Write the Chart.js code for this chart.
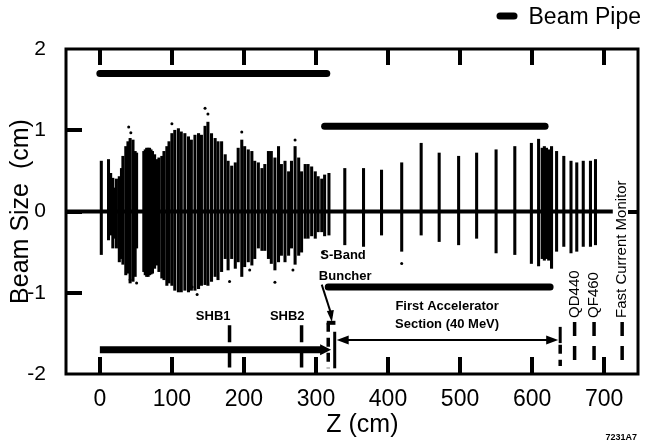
<!DOCTYPE html>
<html>
<head>
<meta charset="utf-8">
<script src="https://cdn.jsdelivr.net/npm/chart.js@4.4.1/dist/chart.umd.min.js"></script>
<style>
  html, body { margin: 0; padding: 0; background: #fff; }
  canvas { display: block; }
</style>
</head>
<body>
<canvas id="beamChart" width="646" height="442"></canvas>
<script>
// beam envelope per Z position (cm): top and bottom extent of the scatter
const zPos = [2, 12, 15, 18, 21, 23, 27, 30, 32, 36, 39, 42, 46, 49, 51, 61, 63, 65, 67, 69, 71, 73, 76, 79, 82, 86, 89, 93, 96,
  100, 104, 109, 113, 118, 123, 127, 132, 137, 141, 146, 150, 155, 160, 164, 169, 174, 178, 183, 188, 192, 197,
  201, 206, 211, 215, 220, 225, 229, 234, 238, 243, 248, 252, 257, 262, 266, 271, 276, 280, 285, 289, 294, 299,
  303, 308, 312, 318, 340, 366, 391, 419, 446, 471, 498, 523, 550, 576, 599, 609, 614, 617, 620, 623, 627,
  634, 644, 654, 662, 671, 681, 688];
const sizeTop = [0.62, 0.64, 0.47, 0.41, 0.29, 0.40, 0.43, 0.53, 0.68, 0.80, 0.86, 0.90, 0.88, 0.74, 0.72, 0.74, 0.76, 0.78, 0.78, 0.78, 0.76, 0.74, 0.70, 0.64, 0.66, 0.68, 0.74, 0.80, 0.86,
  0.96, 1.00, 1.02, 0.98, 0.96, 0.92, 0.88, 0.94, 0.96, 0.94, 1.05, 1.10, 0.96, 0.90, 0.86, 0.86, 0.70, 0.62, 0.56, 0.60, 0.78, 0.88,
  0.80, 0.76, 0.74, 0.62, 0.60, 0.53, 0.58, 0.74, 0.74, 0.66, 0.80, 0.58, 0.62, 0.49, 0.62, 0.80, 0.66, 0.49, 0.58, 0.58, 0.55, 0.49,
  0.43, 0.40, 0.45, 0.47, 0.53, 0.53, 0.51, 0.60, 0.84, 0.72, 0.68, 0.72, 0.76, 0.80, 0.84, 0.89, 0.78, 0.80, 0.78, 0.76, 0.80,
  0.74, 0.68, 0.62, 0.60, 0.62, 0.62, 0.64];
const sizeBot = [-0.53, -0.35, -0.29, -0.45, -0.33, -0.45, -0.62, -0.58, -0.65, -0.78, -0.76, -0.88, -0.86, -0.80, -0.45, -0.74, -0.78, -0.80, -0.80, -0.78, -0.77, -0.76, -0.70, -0.66, -0.74, -0.82, -0.84, -0.91, -0.88,
  -0.91, -0.97, -0.99, -0.99, -0.97, -0.99, -0.97, -0.97, -0.95, -0.91, -0.90, -0.91, -0.86, -0.80, -0.84, -0.74, -0.58, -0.72, -0.58, -0.70, -0.62, -0.80,
  -0.68, -0.62, -0.66, -0.58, -0.45, -0.48, -0.48, -0.58, -0.64, -0.72, -0.62, -0.54, -0.62, -0.54, -0.45, -0.65, -0.54, -0.50, -0.33, -0.33, -0.30, -0.33,
  -0.25, -0.25, -0.30, -0.29, -0.41, -0.43, -0.29, -0.49, -0.29, -0.37, -0.41, -0.33, -0.51, -0.53, -0.64, -0.67, -0.58, -0.60, -0.58, -0.60, -0.70,
  -0.49, -0.43, -0.51, -0.49, -0.43, -0.43, -0.41];

// stray particles outside the bars
const dotZ = [146, 150, 43, 40, 197, 271, 100, 128, 208, 268, 243, 42, 51, 135, 419, 310, 180];
const dotY = [1.27, 1.20, 0.97, 1.04, 0.98, 0.88, 1.08, -0.93, -0.72, -0.72, -0.87, -0.84, -0.88, -1.02, -0.64, -0.50, -0.86];

// beam pipe radius segments
const pipeStart = [0, 312, 0, 317];
const pipeEnd = [315, 618, 310, 625];
const pipeY = [1.7, 1.05, -1.7, -0.93];

const zeroLineZ = [-47, 712];
const xTicks = [0, 100, 200, 300, 400, 500, 600, 700];
const yTicks = [-2, -1, 0, 1, 2];
const yInnerTicks = [-1, 0, 1];

const FONT = "'Liberation Sans', Arial, Helvetica, sans-serif";
Chart.defaults.font.family = FONT;
Chart.defaults.color = '#000';

function seg(ctx, x1, y1, x2, y2) {
  ctx.beginPath(); ctx.moveTo(x1, y1); ctx.lineTo(x2, y2); ctx.stroke();
}
function arrowHead(ctx, tipX, tipY, dir, len, half) {
  ctx.beginPath();
  ctx.moveTo(tipX, tipY);
  ctx.lineTo(tipX - dir * len, tipY - half);
  ctx.lineTo(tipX - dir * len, tipY + half);
  ctx.closePath(); ctx.fill();
}

// frame and inward tick marks
const frameTicks = {
  id: 'frameTicks',
  afterDatasetsDraw(chart) {
    const { ctx, chartArea: a, scales: { x, y } } = chart;
    ctx.save();
    ctx.globalCompositeOperation = 'source-over';
    ctx.globalAlpha = 1;
    ctx.setLineDash([]);
    ctx.fillStyle = 'rgb(0,0,0)';
    ctx.strokeStyle = 'rgb(0,0,0)';
    ctx.lineWidth = 3;
    ctx.strokeRect(a.left, a.top, a.right - a.left, a.bottom - a.top);
    for (let i = 0; i < xTicks.length; i++) {
      const px = Math.round(x.getPixelForValue(xTicks[i]));
      ctx.fillRect(px - 2, a.top, 4, 16);
      ctx.fillRect(px - 2, a.bottom - 17, 4, 17);
    }
    for (let i = 0; i < yInnerTicks.length; i++) {
      const py = Math.round(y.getPixelForValue(yInnerTicks[i]));
      ctx.fillRect(a.left, py - 2, 16, 4);
    }
    ctx.fillRect(a.right - 10, Math.round(y.getPixelForValue(0)) - 2, 10, 4);
    ctx.restore();
  }
};

const overlay = {
  id: 'overlay',
  afterDraw(chart) {
    const { ctx, scales: { x, y } } = chart;
    ctx.save();
    ctx.strokeStyle = '#000'; ctx.fillStyle = '#000';

    // arrow at end of lower-left pipe
    const lp = y.getPixelForValue(pipeY[2]);
    arrowHead(ctx, x.getPixelForValue(321), lp, 1, 11, 5.5);

    // element markers
    ctx.lineWidth = 3.5;
    ctx.setLineDash([17, 10]);
    [180, 280].forEach(z => seg(ctx, x.getPixelForValue(z), y.getPixelForValue(-1.40), x.getPixelForValue(z), y.getPixelForValue(-1.92)));
    ctx.setLineDash([14, 10]);
    [659, 686, 725].forEach(z => seg(ctx, x.getPixelForValue(z), y.getPixelForValue(-1.36), x.getPixelForValue(z), y.getPixelForValue(-1.90)));
    ctx.setLineDash([9, 6]);
    seg(ctx, x.getPixelForValue(317), y.getPixelForValue(-1.37), x.getPixelForValue(317), y.getPixelForValue(-1.93));
    seg(ctx, x.getPixelForValue(639), y.getPixelForValue(-1.64), x.getPixelForValue(639), y.getPixelForValue(-1.90));
    ctx.setLineDash([]);
    ctx.lineWidth = 4;
    seg(ctx, x.getPixelForValue(315), y.getPixelForValue(-1.37), x.getPixelForValue(327), y.getPixelForValue(-1.37));
    ctx.lineWidth = 3;
    seg(ctx, x.getPixelForValue(326), y.getPixelForValue(-1.48), x.getPixelForValue(326), y.getPixelForValue(-1.93));
    seg(ctx, x.getPixelForValue(639), y.getPixelForValue(-1.42), x.getPixelForValue(639), y.getPixelForValue(-1.62));

    // accelerator section double arrow
    const ay = y.getPixelForValue(-1.58);
    const ax1 = x.getPixelForValue(326) + 2, ax2 = x.getPixelForValue(639) - 2;
    ctx.lineWidth = 2;
    seg(ctx, ax1 + 8, ay, ax2 - 8, ay);
    arrowHead(ctx, ax1, ay, -1, 12, 4.5);
    arrowHead(ctx, ax2, ay, 1, 12, 4.5);

    // S-band buncher pointer
    const bx1 = x.getPixelForValue(308), by1 = y.getPixelForValue(-0.90);
    const bx2 = x.getPixelForValue(322), by2 = y.getPixelForValue(-1.36);
    ctx.lineWidth = 2;
    seg(ctx, bx1, by1, bx2, by2 - 6);
    ctx.beginPath();
    ctx.moveTo(bx2, by2); ctx.lineTo(bx2 - 5, by2 - 11); ctx.lineTo(bx2 + 2, by2 - 12); ctx.closePath(); ctx.fill();

    // labels
    ctx.font = `bold 13px ${FONT}`;
    ctx.textBaseline = 'alphabetic';
    ctx.textAlign = 'right';
    ctx.fillText('SHB1', x.getPixelForValue(180) + 1, y.getPixelForValue(-1.33));
    ctx.fillText('SHB2', x.getPixelForValue(280) + 3, y.getPixelForValue(-1.33));
    ctx.textAlign = 'left';
    ctx.fillText('S-Band', x.getPixelForValue(306), y.getPixelForValue(-0.585));
    ctx.fillText('Buncher', x.getPixelForValue(304), y.getPixelForValue(-0.84));
    ctx.textAlign = 'center';
    ctx.fillText('First Accelerator', x.getPixelForValue(482), y.getPixelForValue(-1.21));
    ctx.fillText('Section (40 MeV)', x.getPixelForValue(482), y.getPixelForValue(-1.43));

    ctx.font = `15px ${FONT}`;
    ctx.textAlign = 'left'; ctx.textBaseline = 'middle';
    [[659, 'QD440'], [686, 'QF460'], [725, 'Fast Current Monitor']].forEach(([z, t]) => {
      ctx.save();
      ctx.translate(x.getPixelForValue(z), y.getPixelForValue(-1.31));
      ctx.rotate(-Math.PI / 2);
      ctx.fillText(t, 0, 0);
      ctx.restore();
    });

    // legend
    ctx.lineWidth = 7; ctx.lineCap = 'round';
    seg(ctx, 500, 16, 514, 16);
    ctx.font = `23px ${FONT}`;
    ctx.textAlign = 'right'; ctx.textBaseline = 'alphabetic';
    ctx.fillText('Beam Pipe', 641, 24);

    ctx.font = `bold 9px ${FONT}`;
    ctx.fillText('7231A7', 637, 440);
    ctx.restore();
  }
};

const datasets = [
  {
    type: 'bar',
    data: zPos.map((z, i) => ({ x: z, y: [sizeBot[i], sizeTop[i]] })),
    backgroundColor: '#000', barThickness: 2.4, grouped: false
  },
  {
    type: 'scatter',
    data: dotZ.map((z, i) => ({ x: z, y: dotY[i] })),
    pointRadius: 1.5, backgroundColor: '#000', borderWidth: 0
  },
  {
    type: 'line',
    data: zeroLineZ.map(z => ({ x: z, y: 0 })),
    borderColor: '#000', borderWidth: 4, pointRadius: 0
  }
];
pipeStart.forEach((s, i) => datasets.push({
  type: 'line',
  data: [{ x: s, y: pipeY[i] }, { x: pipeEnd[i], y: pipeY[i] }],
  borderColor: '#000', borderWidth: 7, pointRadius: 0,
  borderCapStyle: i === 2 ? 'butt' : 'round'
}));

new Chart(document.getElementById('beamChart'), {
  type: 'bar',
  data: { datasets },
  plugins: [frameTicks, overlay],
  options: {
    responsive: false, animation: false, devicePixelRatio: 1,
    layout: { padding: { top: 49, right: 8, left: 0, bottom: 0 } },
    plugins: { legend: { display: false }, tooltip: { enabled: false } },
    scales: {
      x: {
        type: 'linear', min: -47, max: 747, offset: false,
        afterBuildTicks: s => { s.ticks = xTicks.map(v => ({ value: v })); },
        afterFit: s => { s.height = 68; },
        grid: { display: false, offset: false }, border: { display: false },
        ticks: { font: { size: 23 }, color: '#000', padding: 4, maxRotation: 0, autoSkip: false },
        title: { display: true, text: '   Z (cm)', font: { size: 25, lineHeight: 1 }, color: '#000', padding: { top: 0, bottom: 4 } }
      },
      y: {
        min: -2, max: 2,
        afterBuildTicks: s => { s.ticks = yTicks.map(v => ({ value: v })); },
        afterFit: s => { s.width = 66; },
        grid: { display: false }, border: { display: false },
        ticks: { font: { size: 21 }, color: '#000', padding: 12, autoSkip: false },
        title: { display: true, text: 'Beam Size  (cm)', font: { size: 25 }, color: '#000', padding: { top: 6, bottom: 0 } }
      }
    }
  }
});
</script>
</body>
</html>
